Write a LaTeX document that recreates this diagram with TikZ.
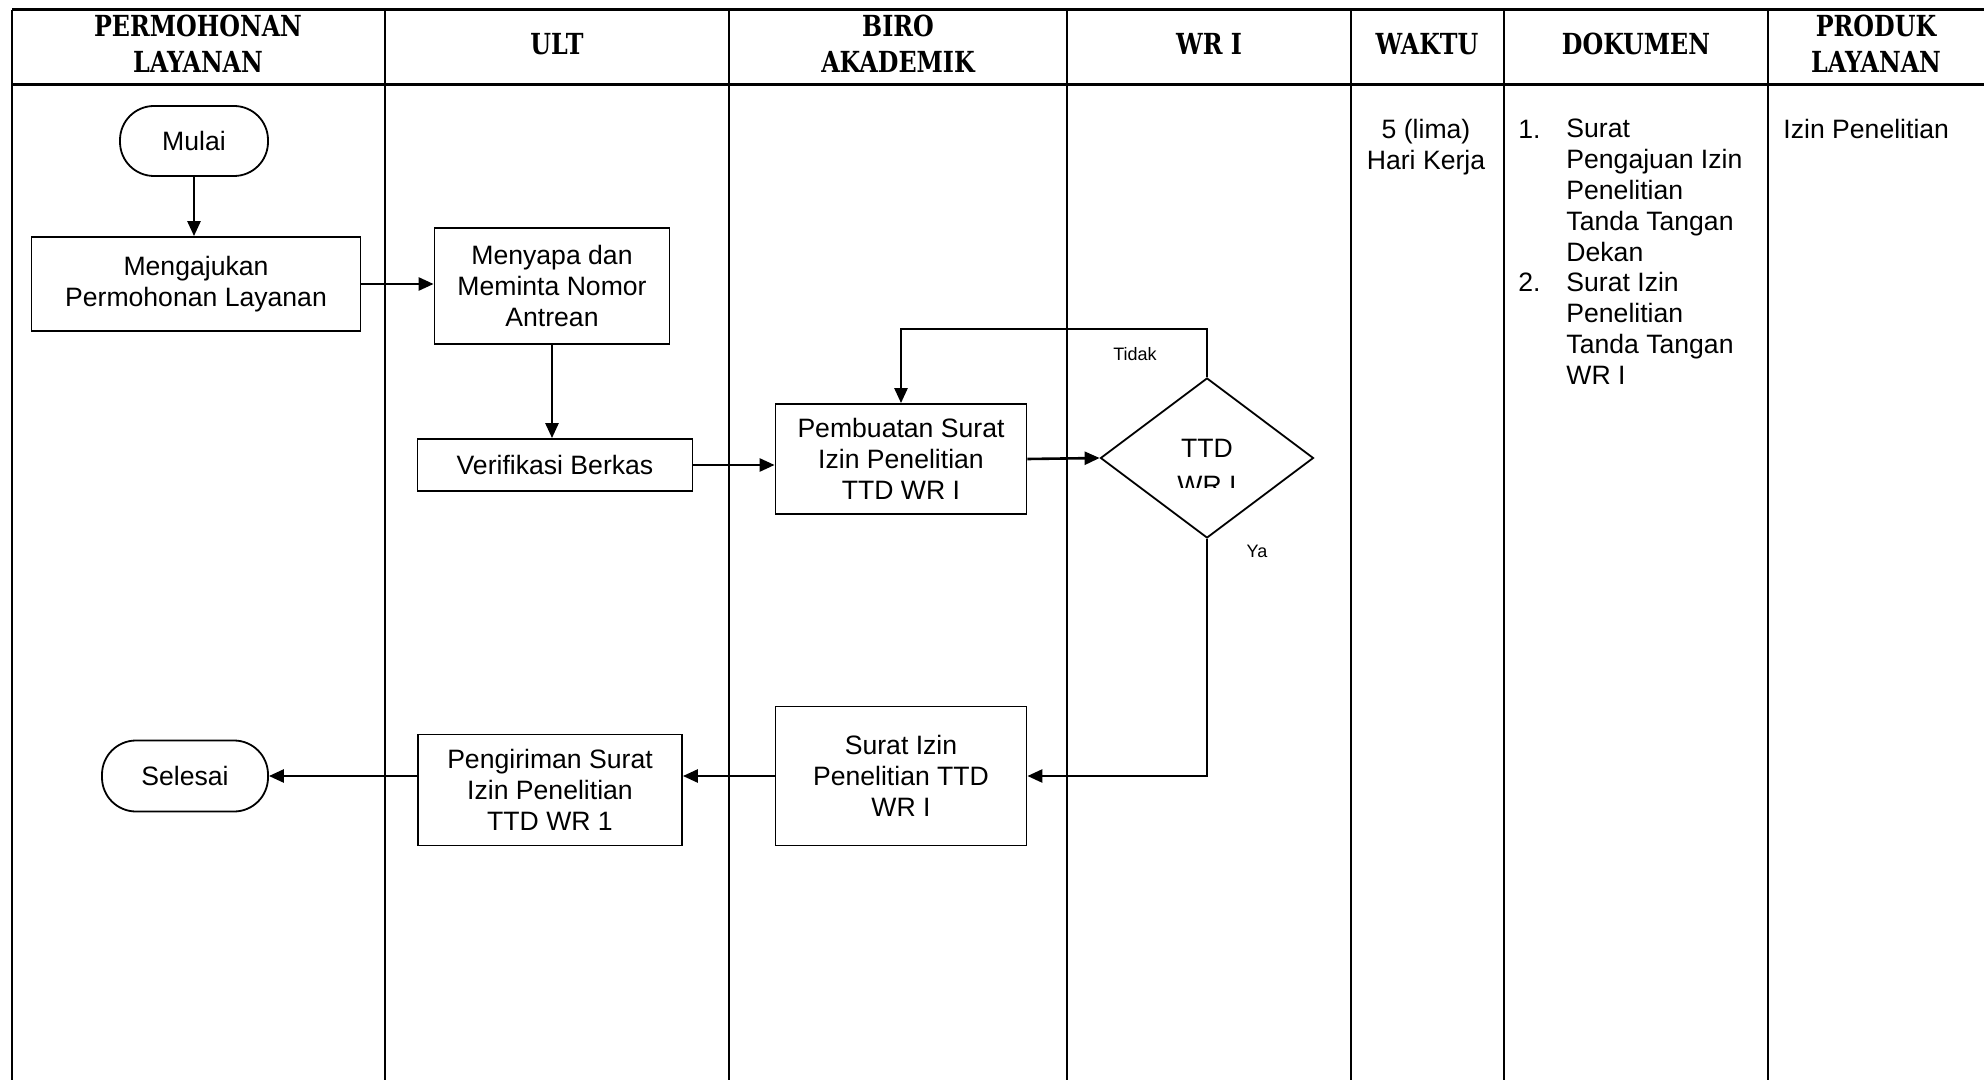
\documentclass[tikz,border=0pt]{standalone}
\usepackage{fontspec}
\setmainfont{Liberation Sans}
\newfontfamily\hdrfont[FakeStretch=0.82]{DejaVu Serif}
\usetikzlibrary{arrows.meta,shapes.geometric}
\begin{document}
\begin{tikzpicture}[x=0.5pt,y=-0.5pt,
  every node/.style={inner sep=0pt, font=\fontsize{13.3}{15.4}\selectfont},
  box/.style={draw, line width=0.9pt, rectangle, align=center},
  term/.style={draw, line width=0.9pt, rounded corners=17pt, align=center},
  hdr/.style={font=\hdrfont\bfseries\fontsize{14.5}{18}\selectfont, align=center},
  small/.style={font=\fontsize{9}{11}\selectfont},
  flow/.style={line width=1.3pt, -{Triangle[length=7.5pt,width=6.5pt]}},
  tblthick/.style={line width=1.5pt},
  colthick/.style={line width=1.1pt},
  colthin/.style={line width=0.7pt}
]
\fill[white] (0,0) rectangle (1984,1080);
\useasboundingbox (0,0) rectangle (1984,1080);

% table frame
\draw[tblthick] (12,10) -- (1984,10);
\draw[tblthick] (12,85) -- (1984,85);
\draw[colthin] (12,10) -- (12,1080);
\draw[colthick] (385,10) -- (385,1080);
\draw[colthick] (729,10) -- (729,1080);
\draw[colthin] (1067,10) -- (1067,1080);
\draw[colthick] (1351,10) -- (1351,1080);
\draw[colthin] (1504,10) -- (1504,1080);
\draw[colthick] (1768,10) -- (1768,1080);

% headers
\node[hdr] (h1) at (198,44) {PERMOHONAN\\LAYANAN};
\node[hdr] (h2) at (557,44) {ULT};
\node[hdr] (h3) at (898,44) {BIRO\\AKADEMIK};
\node[hdr] (h4) at (1209,44) {WR I};
\node[hdr] (h5) at (1427,44) {WAKTU};
\node[hdr] (h6) at (1636,44) {DOKUMEN};
\node[hdr] (h7) at (1876,44) {PRODUK\\LAYANAN};

% flow nodes
\node[term, minimum width=74pt, minimum height=35pt] (mulai) at (194,141) {Mulai};
\node[box, minimum width=164.5pt, minimum height=47pt] (aju) at (196,284) {Mengajukan\\Permohonan Layanan};
\node[box, minimum width=117.5pt, minimum height=58pt] (sapa) at (552,286) {Menyapa dan\\Meminta Nomor\\Antrean};
\node[box, minimum width=137.5pt, minimum height=26pt] (verif) at (555,465) {Verifikasi Berkas};
\node[box, minimum width=125.5pt, minimum height=55pt] (buat) at (901,459) {Pembuatan Surat\\Izin Penelitian\\TTD WR I};
\node[draw, diamond, line width=0.9pt, minimum width=106.5pt, minimum height=80pt] (ttd) at (1207,458) {};
\node (ttdA) at (1207,448) {TTD};
\begin{scope}
\clip (1100,378) rectangle (1313,487);
\node (ttdB) at (1207,485) {WR I};
\end{scope}
\node[box, minimum width=125.5pt, minimum height=69.5pt] (surat) at (901,776) {Surat Izin\\Penelitian TTD\\WR I};
\node[box, minimum width=132pt, minimum height=55.5pt] (kirim) at (550,790) {Pengiriman Surat\\Izin Penelitian\\TTD WR 1};
\node[term, minimum width=83pt, minimum height=35.5pt] (selesai) at (185,776) {Selesai};

% labels
\node[small] (tidak) at (1135,354) {Tidak};
\node[small] (ya) at (1257,551) {Ya};

% connectors
\draw[flow] (mulai.south) -- (mulai.south |- aju.north);
\draw[flow] (aju.east) -- (aju.east -| sapa.west);
\draw[flow] (sapa.south) -- (sapa.south |- verif.north);
\draw[flow] (verif.east) -- (verif.east -| buat.west);
\draw[flow] (buat.east) -- (ttd.west);
\coordinate (lp) at (1207,329);
\draw[flow] (ttd.north) -- (lp) -| (buat.north);
\draw[flow] (ttd.south) |- (surat.east);
\draw[flow] (surat.west) -- (surat.west -| kirim.east);
\draw[flow] (kirim.west |- selesai.east) -- (selesai.east);

% side columns
\node[anchor=north, align=center] (waktu) at (1426,119) {5 (lima)\\Hari Kerja};
\node[anchor=base west] (n1) at (1518,139) {1.};
\node[anchor=north west, align=left] (d1) at (1566,119) {Surat\\Pengajuan Izin\\Penelitian\\Tanda Tangan\\Dekan};
\node[anchor=base west] (n2) at (1518,292) {2.};
\node[anchor=north west, align=left] (d2) at (1566,272) {Surat Izin\\Penelitian\\Tanda Tangan\\WR I};
\node[anchor=base west] (produk) at (1783,139) {Izin Penelitian};
\end{tikzpicture}
\end{document}
